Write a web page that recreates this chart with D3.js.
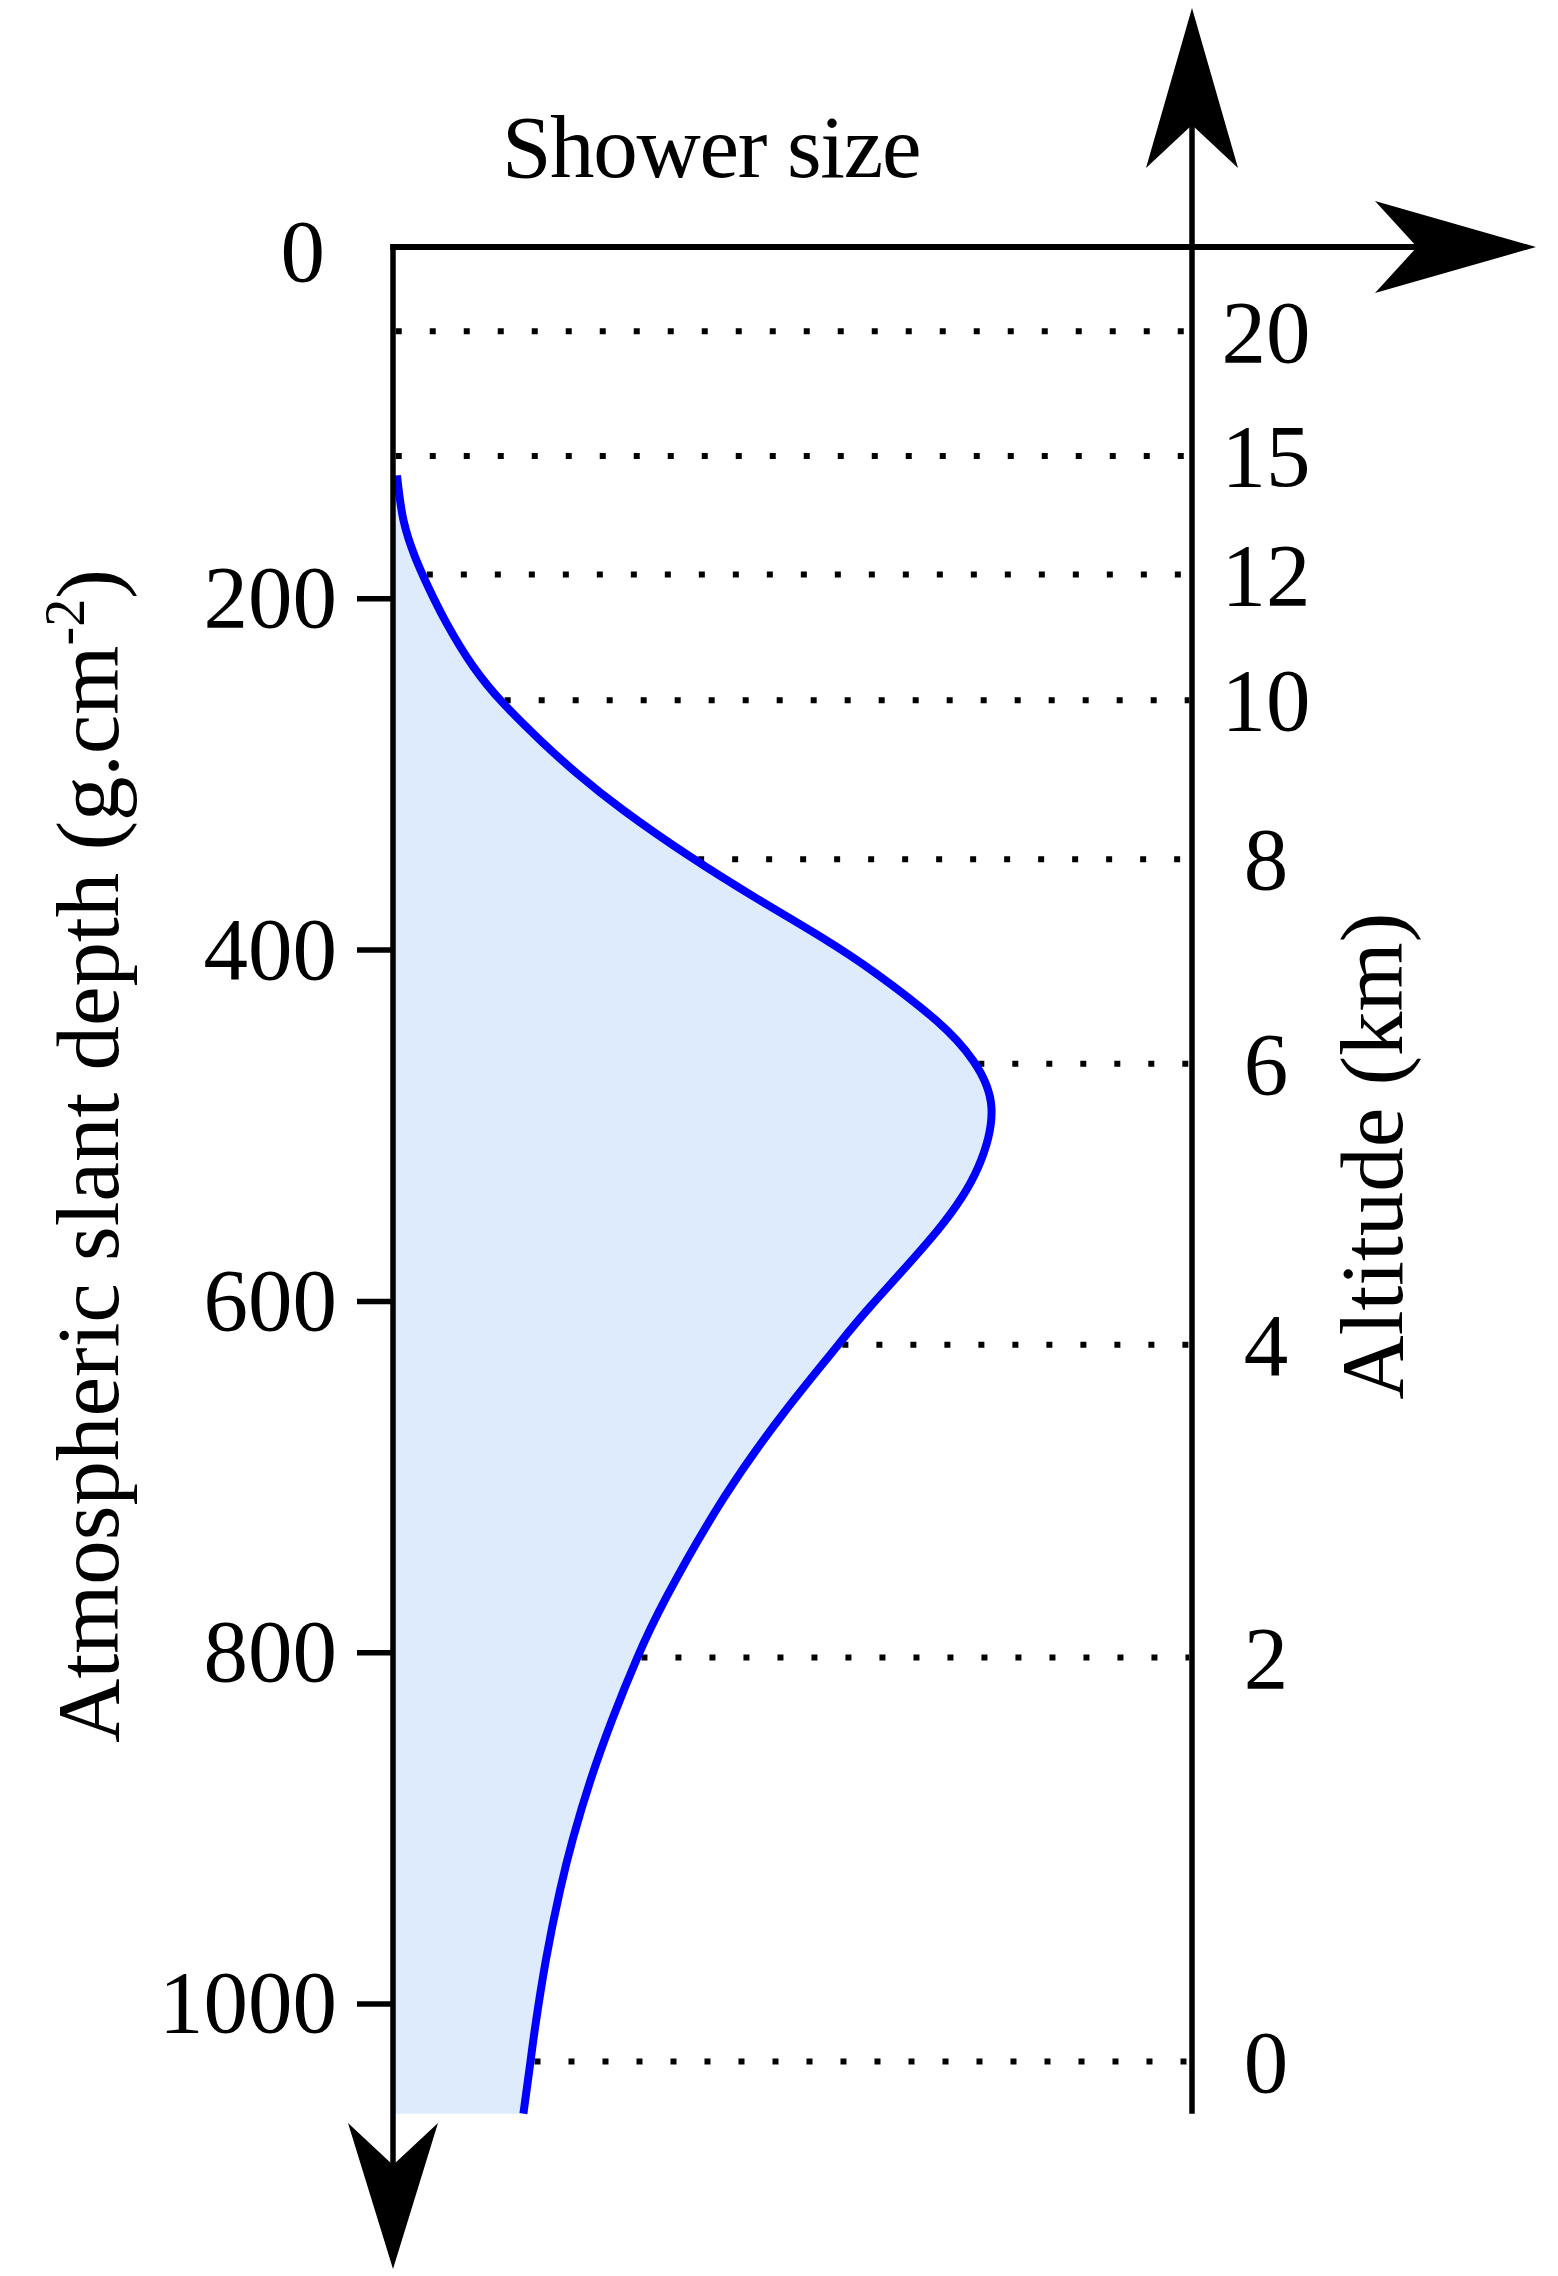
<!DOCTYPE html>
<html>
<head>
<meta charset="utf-8">
<script src="https://cdn.jsdelivr.net/npm/d3@7"></script>
<style>
  html, body { margin: 0; padding: 0; background: #ffffff; }
  svg { display: block; }
  text { font-family: "Liberation Serif", "DejaVu Serif", serif; fill: #000; }
</style>
</head>
<body>
<svg id="chart" width="1558" height="2276"></svg>
<script>
// ---------------- data ----------------
// Left axis: atmospheric slant depth (g/cm^2)
const depthTicks = [0, 200, 400, 600, 800, 1000];

// Right axis: altitude (km) and the slant depth at which each level sits
const altitudeKm    = [20, 15, 12, 10, 8, 6, 4, 2, 0];
const altitudeDepth = [48, 119, 186.5, 258, 348.5, 465, 625, 803, 1033];

// Longitudinal shower profile: depth (g/cm^2) vs relative shower size
const profileDepth = [130, 155.4, 176.3, 193.4, 214.1, 238.9, 259.8, 280.7, 299.6, 320.5,
                      347.1, 370.8, 392.6, 413.7, 440.4, 463.2, 490, 524.3, 559.6, 602.9,
                      628.5, 663.8, 712.2, 768, 803.9, 837.3, 872.6, 905.8, 935.4, 974.6,
                      1013.8, 1033.3, 1062.7];
const profileSize  = [0.005, 0.013, 0.0275, 0.044, 0.067, 0.1005, 0.138, 0.184, 0.230, 0.288,
                      0.372, 0.455, 0.535, 0.605, 0.680, 0.726, 0.749, 0.732, 0.682, 0.598,
                      0.551, 0.489, 0.414, 0.343, 0.305, 0.2752, 0.2474, 0.2254, 0.2091, 0.1916,
                      0.1778, 0.172, 0.1632];

const depthMax = 1062.7;   // bottom of the plotted atmosphere

// ---------------- layout ----------------
const svg = d3.select("#chart");
const y = d3.scaleLinear().domain([0, 1000]).range([247, 2003.5]);
const x = d3.scaleLinear().domain([0, 1]).range([393, 1192]);
const axisW = 5.5;
const ink = "#000";

const profile = profileDepth.map((d, i) => ({ depth: d, size: profileSize[i] }));
const sizeAt = d3.scaleLinear().domain(profileDepth).range(profileSize).clamp(true);

// ---------------- dotted altitude lines ----------------
const levels = altitudeKm.map((k, i) => ({ km: k, depth: altitudeDepth[i] }));
svg.append("g").selectAll("line").data(levels).join("line")
  .attr("x1", d => d.depth < profileDepth[0] ? x(0) + axisW / 2 : x(sizeAt(d.depth)) + 4)
  .attr("x2", x(1) - axisW / 2)
  .attr("y1", d => y(d.depth))
  .attr("y2", d => y(d.depth))
  .attr("stroke", ink)
  .attr("stroke-width", 6)
  .attr("stroke-dasharray", "6,28");

// ---------------- shower profile ----------------
const curve = d3.curveNatural;
const area = d3.area()
  .y(d => y(d.depth))
  .x0(x(0))
  .x1(d => x(d.size))
  .curve(curve);
svg.append("path").datum(profile)
  .attr("d", area)
  .attr("fill", "#ddebfd");

const line = d3.line()
  .y(d => y(d.depth))
  .x(d => x(d.size))
  .curve(curve);
svg.append("path").datum(profile)
  .attr("d", line)
  .attr("fill", "none")
  .attr("stroke", "#0000ff")
  .attr("stroke-width", 8);

// ---------------- axes ----------------
// left depth axis
const leftAxis = d3.axisLeft(y).tickValues(depthTicks).tickFormat(d3.format("d"))
  .tickSize(36).tickPadding(20).tickSizeOuter(0);
const gL = svg.append("g").attr("transform", `translate(${x(0)},0)`).call(leftAxis);
gL.select(".domain").remove();
gL.selectAll(".tick line").attr("stroke", ink).attr("stroke-width", axisW)
  .filter(d => d === 0).remove();
gL.selectAll(".tick text")
  .attr("font-family", "Liberation Serif")
  .attr("font-size", 89)
  .attr("fill", ink);
gL.selectAll(".tick").filter(d => d === 0).select("text")
  .attr("x", -68).attr("dy", "0.38em");

// axis lines
const topY = y(0);
const bottomY = y(depthMax);
// left axis (downwards, arrow at bottom)
svg.append("line").attr("x1", x(0)).attr("x2", x(0))
  .attr("y1", topY - axisW / 2).attr("y2", 2200)
  .attr("stroke", ink).attr("stroke-width", axisW);
// top axis (shower size, arrow to the right)
svg.append("line").attr("x1", x(0) - axisW / 2).attr("x2", 1460)
  .attr("y1", topY).attr("y2", topY)
  .attr("stroke", ink).attr("stroke-width", axisW + 0.5);
// right axis (altitude, arrow upwards)
svg.append("line").attr("x1", x(1)).attr("x2", x(1))
  .attr("y1", bottomY).attr("y2", 60)
  .attr("stroke", ink).attr("stroke-width", axisW);

// arrow heads
const arrows = [
  // bottom (depth)
  [[x(0), 2269], [x(0) - 45, 2123], [x(0), 2165], [x(0) + 45, 2123]],
  // right (shower size)
  [[1536, topY], [1375, topY - 46], [1417, topY], [1375, topY + 46]],
  // top (altitude)
  [[x(1), 8], [x(1) - 46, 168], [x(1), 125], [x(1) + 46, 168]]
];
svg.append("g").selectAll("path").data(arrows).join("path")
  .attr("d", d => "M" + d.map(p => p.join(",")).join("L") + "Z")
  .attr("fill", ink);

// right axis labels
svg.append("g").selectAll("text").data(levels).join("text")
  .attr("x", 1266)
  .attr("y", d => y(d.depth))
  .attr("dy", "0.34em")
  .attr("text-anchor", "middle")
  .attr("font-size", 89)
  .text(d => d.km);

// ---------------- titles ----------------
svg.append("text")
  .attr("x", 711).attr("y", 177)
  .attr("text-anchor", "middle")
  .attr("font-size", 89)
  .attr("letter-spacing", "-1.3px")
  .text("Shower size");

const lt = svg.append("text")
  .attr("transform", "translate(118,1156) rotate(-90)")
  .attr("text-anchor", "middle")
  .attr("font-size", 89);
lt.append("tspan").text("Atmospheric slant depth (g.cm");
lt.append("tspan").attr("font-size", 56).attr("dy", -34).text("-2");
lt.append("tspan").attr("dy", 34).text(")");

svg.append("text")
  .attr("transform", "translate(1402,1156) rotate(-90)")
  .attr("text-anchor", "middle")
  .attr("font-size", 89)
  .text("Altitude (km)");
</script>
</body>
</html>
